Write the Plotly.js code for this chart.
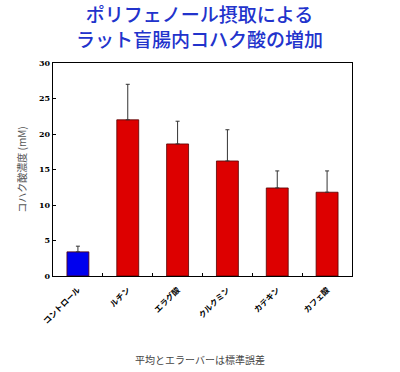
<!DOCTYPE html>
<html><head><meta charset="utf-8">
<script src="https://cdn.plot.ly/plotly-3.0.1.min.js"></script>
<style>body{margin:0;background:#fff}#c{width:400px;height:372px}</style>
</head><body><div id="c"></div>
<script>
const categories = ["コントロール", "ルチン", "エラグ酸", "クルクミン", "カテキン", "カフェ酸"];
const means = [3.4, 22.0, 18.6, 16.2, 12.4, 11.8];
const errors = [0.8, 5.0, 3.2, 4.4, 2.4, 3.0];
const barColors = ["#0000ee", "#dd0000", "#dd0000", "#dd0000", "#dd0000", "#dd0000"];
const yTicks = [0, 5, 10, 15, 20, 25, 30];

const jp = '"Noto Sans CJK JP", "Noto Sans", sans-serif';
Plotly.newPlot('c', [{
  type: 'bar', x: categories, y: means,
  marker: {color: barColors, line: {color: '#550000', width: 0.8}},
  error_y: {type: 'data', symmetric: false, array: errors, arrayminus: errors.map(() => 0),
            color: '#333', thickness: 1, width: 2},
  hoverinfo: 'none'
}], {
  width: 400, height: 372,
  margin: {l: 53, r: 48, t: 63, b: 96},
  paper_bgcolor: '#fff', plot_bgcolor: '#fff',
  bargap: 0.56,
  showlegend: false,
  xaxis: {type: 'category', showline: true, linecolor: '#000', linewidth: 1.2, mirror: true,
          ticks: 'inside', tickson: 'boundaries', ticklen: 3, tickcolor: '#000',
          ticklabelstandoff: 5,
          tickangle: -45, tickfont: {family: jp, size: 8, color: '#000', weight: 'bold'},
          showgrid: false, zeroline: false},
  yaxis: {range: [0, 30], tickvals: yTicks, ticks: 'inside', ticklen: 3, tickcolor: '#000',
          showline: true, linecolor: '#000', linewidth: 1.2, mirror: true, showgrid: false, zeroline: false,
          tickfont: {family: '"DejaVu Serif", serif', size: 8, color: '#000', weight: 'bold'},
          title: {text: 'コハク酸濃度 (mM)', standoff: 10, font: {family: jp, size: 10, color: '#555'}}},
  annotations: [
    {text: 'ポリフェノール摂取による<br>ラット盲腸内コハク酸の増加', xref: 'paper', yref: 'paper',
     x: 0.49, y: 1.175, xanchor: 'center', yanchor: 'middle', showarrow: false,
     font: {family: jp, size: 19, color: '#2233cc', weight: 500}},
    {text: '平均とエラーバーは標準誤差', xref: 'paper', yref: 'paper', x: 0.49, y: -0.39,
     xanchor: 'center', yanchor: 'middle', showarrow: false,
     font: {family: jp, size: 10, color: '#444'}}]
}, {displayModeBar: false, staticPlot: true});
</script></body></html>
